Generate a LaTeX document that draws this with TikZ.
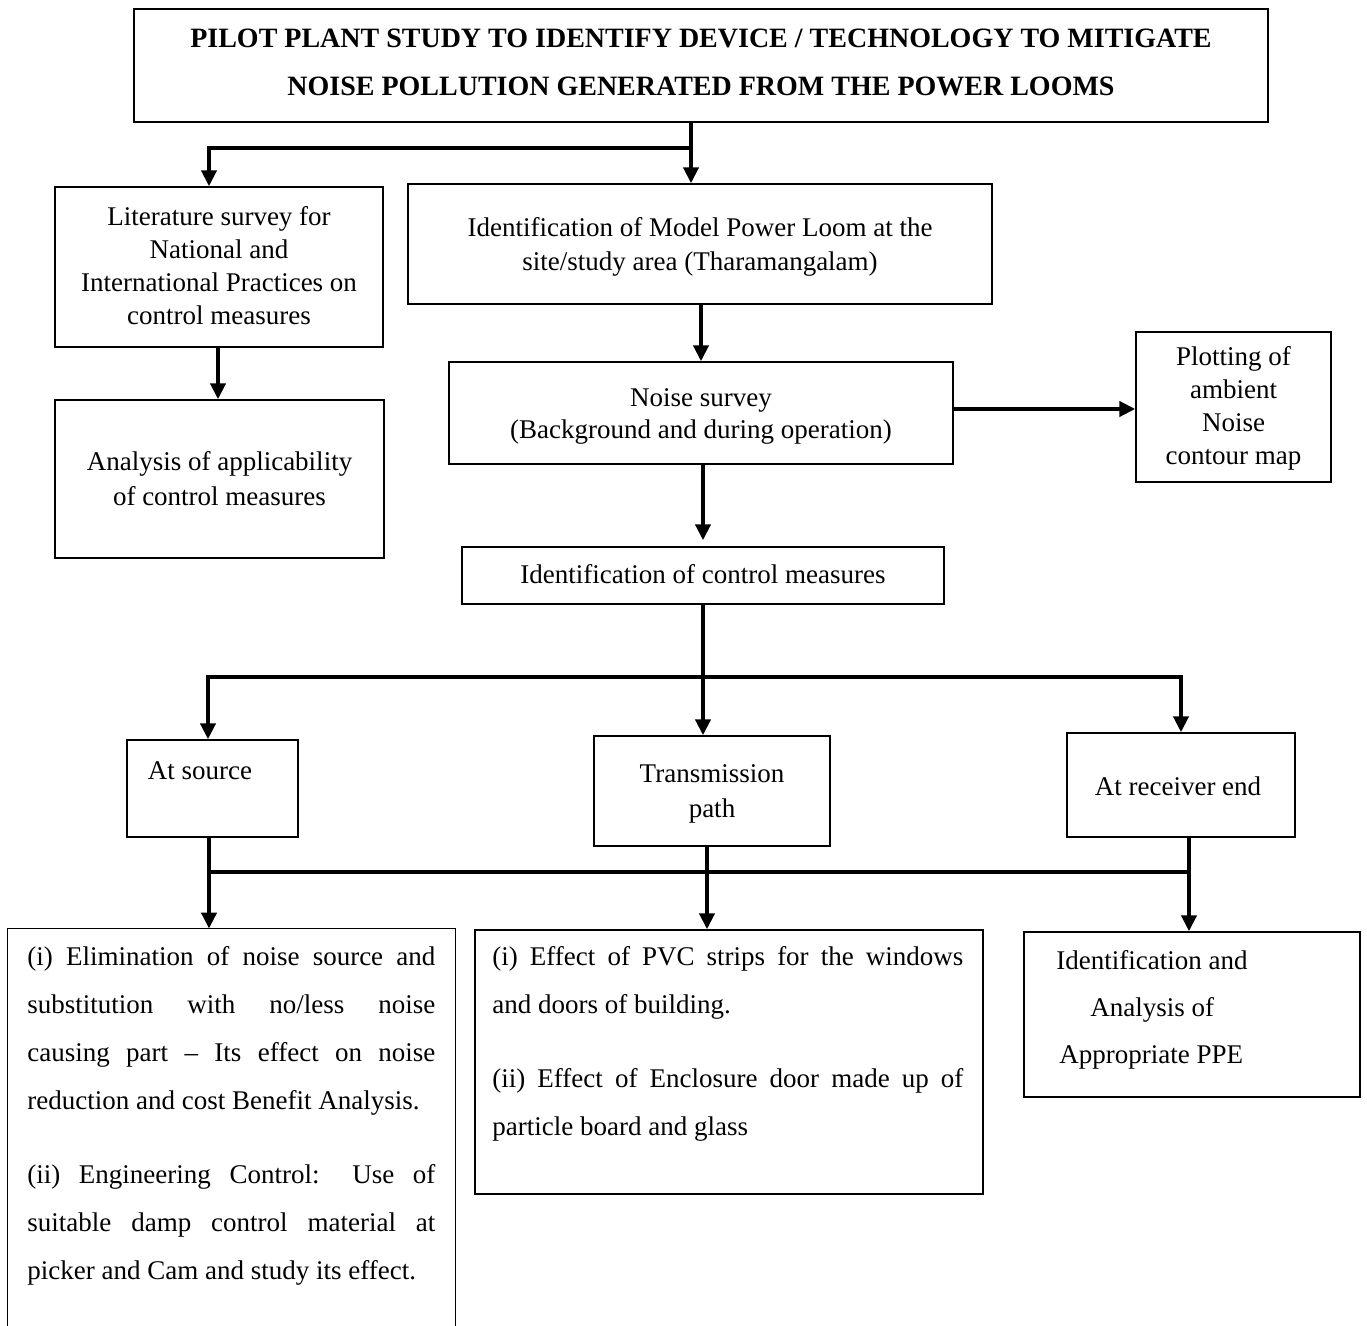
\documentclass[tikz,border=0pt]{standalone}
\usepackage{fontspec}
\setmainfont{Liberation Serif}
\usetikzlibrary{arrows.meta,fit}
\begin{document}
\begin{tikzpicture}[x=0.5pt,y=-0.5pt,
  box/.style={draw,line width=0.7pt,inner sep=0pt},
  conn/.style={line width=2pt},
  arr/.style={line width=2pt,-{Triangle[width=7.5pt,length=8pt]}},
  txt/.style={inner sep=0pt,align=center,font=\fontsize{13.5}{16.5}\selectfont},
  para/.style={inner sep=0pt,align=justify,anchor=north west,font=\fontsize{13.5}{24}\selectfont},
  linetxt/.style={inner sep=0pt,anchor=base west,font=\fontsize{13.5}{16.5}\selectfont}
]
\useasboundingbox (0,0) rectangle (1367,1326);

% boxes
\node[box,fit={(134,9)(1268,122)}] (title) {};
\node[txt,font=\bfseries\fontsize{14}{24}\selectfont] (titletxt) at ([yshift=1.5pt]title.center)
  {PILOT PLANT STUDY TO IDENTIFY DEVICE / TECHNOLOGY TO MITIGATE\\NOISE POLLUTION GENERATED FROM THE POWER LOOMS};
\node[box,fit={(55,187)(383,347)}] (lit) {};
\node[txt] (littxt) at ([yshift=0.5pt]lit.center)
  {Literature survey for\\National and\\International Practices on\\control measures};
\node[box,fit={(55,400)(384,558)}] (anal) {};
\node[txt,font=\fontsize{13.5}{17.5}\selectfont] (analtxt) at (anal.center)
  {Analysis of applicability\\of control measures};
\node[box,fit={(408,184)(992,304)}] (ident) {};
\node[txt,font=\fontsize{13.5}{17}\selectfont] (identtxt) at ([yshift=-1.5pt]ident.center)
  {Identification of Model Power Loom at the\\site/study area (Tharamangalam)};
\node[box,fit={(449,362)(953,464)}] (noise) {};
\node[txt,font=\fontsize{13.5}{16}\selectfont] (noisetxt) at ([yshift=-1.5pt]noise.center)
  {Noise survey\\(Background and during operation)};
\node[box,fit={(1136,332)(1331,482)}] (plot) {};
\node[txt] (plottxt) at ([yshift=-0.5pt]plot.center)
  {Plotting of\\ambient\\Noise\\contour map};
\node[box,fit={(462,547)(944,604)}] (ctrl) {};
\node[txt] (ctrltxt) at ([yshift=0.5pt]ctrl.center)
  {Identification of control measures};
\node[box,fit={(127,740)(298,837)}] (src) {};
\node[txt] (srctxt) at (200,771) {At source};
\node[box,fit={(594,736)(830,846)}] (trans) {};
\node[txt,font=\fontsize{13.5}{17.5}\selectfont] (transtxt) at ([yshift=-1.5pt]trans.center)
  {Transmission\\path};
\node[box,fit={(1067,733)(1295,837)}] (recv) {};
\node[txt] (recvtxt) at ([xshift=-1.5pt,yshift=-0.5pt]recv.center)
  {At receiver end};

% bottom boxes
\node[inner sep=0pt,fit={(8,929)(455,1326)}] (srcb) {};
\draw[line width=0.7pt] (srcb.south west) -- (srcb.north west) -- (srcb.north east) -- (srcb.south east);
\node[box,fit={(475,930)(983,1194)}] (transb) {};
\node[box,fit={(1024,932)(1360,1097)}] (recvb) {};

\node[para,text width=204pt] (s1) at (27,946)
  {(i) Elimination of noise source and\linebreak substitution with no/less noise\linebreak causing part -- Its effect on noise\linebreak reduction and cost Benefit Analysis.};
\node[para,text width=204pt] (s2) at (27,1164)
  {(ii) Engineering Control: Use of\linebreak suitable damp control material at\linebreak picker and Cam and study its effect.};
\node[para,text width=235.5pt] (t1) at (492,946)
  {(i) Effect of PVC strips for the windows\linebreak and doors of building.};
\node[para,text width=235.5pt] (t2) at (492,1068)
  {(ii) Effect of Enclosure door made up of\linebreak particle board and glass};
\node[linetxt] (r1) at (1056,969) {Identification and};
\node[linetxt] (r2) at (1090,1016) {Analysis of};
\node[linetxt] (r3) at (1059,1063) {Appropriate PPE};

% connectors
\coordinate (j1) at (691,148);
\coordinate (j1l) at (209,148);
\draw[arr] (title.south -| j1) -- (j1) -- (j1l) -- (lit.north -| j1l);
\draw[arr] (j1) -- (ident.north -| j1);
\coordinate (c2) at (218,0);
\draw[arr] (lit.south -| c2) -- (anal.north -| c2);
\coordinate (c3) at (701,0);
\draw[arr] (ident.south -| c3) -- (noise.north -| c3);
\coordinate (c4) at (0,409);
\draw[arr] (noise.east |- c4) -- (plot.west |- c4);
\coordinate (c5) at (703,0);
\draw[arr,shorten >=3pt] (noise.south -| c5) -- (ctrl.north -| c5);

\coordinate (j2) at (703,677);
\coordinate (j2l) at (208,677);
\coordinate (j2r) at (1181,677);
\draw[arr] (ctrl.south -| j2) -- (j2) -- (j2l) -- (src.north -| j2l);
\draw[arr] (j2) -- (j2r) -- (recv.north -| j2r);
\draw[arr] (j2) -- (trans.north -| j2);

\coordinate (k1) at (209,872);
\coordinate (k2) at (707,872);
\coordinate (k3) at (1189,872);
\draw[arr] (src.south -| k1) -- (k1) -- (srcb.north -| k1);
\draw[arr] (trans.south -| k2) -- (k2) -- (transb.north -| k2);
\draw[arr] (recv.south -| k3) -- (k3) -- (recvb.north -| k3);
\draw[conn] (k1) -- (k3);
\end{tikzpicture}
\end{document}
